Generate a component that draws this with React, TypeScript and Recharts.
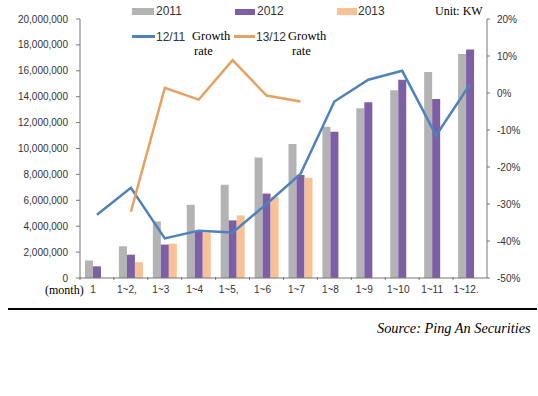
import React from "react";
import {
  ComposedChart,
  Bar,
  Line,
  XAxis,
  YAxis,
} from "recharts";

// cumulative months
const months = ["1", "1~2,", "1~3", "1~4", "1~5,", "1~6", "1~7", "1~8", "1~9", "1~10", "1~11", "1~12."];

// installed capacity, KW
const cap2011 = [1350000, 2450000, 4370000, 5650000, 7200000, 9300000, 10350000, 11680000, 13100000, 14500000, 15900000, 17300000];
const cap2012 = [900000, 1800000, 2580000, 3600000, 4450000, 6520000, 7960000, 11300000, 13580000, 15300000, 13830000, 17650000];
const cap2013 = [null, 1220000, 2650000, 3500000, 4830000, 6250000, 7750000, null, null, null, null, null];

// growth rates, %
const growth1211 = [-32.9, -25.6, -39.3, -37.2, -37.7, -30.0, -21.9, -2.3, 3.6, 6.0, -11.5, 2.4];
const growth1312 = [null, -32.1, 1.4, -1.8, 8.9, -0.7, -2.3, null, null, null, null, null];

const leftTicks = [0, 2000000, 4000000, 6000000, 8000000, 10000000, 12000000, 14000000, 16000000, 18000000, 20000000];
const rightTicks = [-50, -40, -30, -20, -10, 0, 10, 20];

const data = months.map((m, i) => ({
  month: m,
  y2011: cap2011[i],
  y2012: cap2012[i],
  y2013: cap2013[i],
  g1211: growth1211[i],
  g1312: growth1312[i],
}));

const GRAY = "#b3b3b3";
const PURPLE = "#7d5fa6";
const PEACH = "#f9c194";
const BLUE = "#4f81bd";
const ORANGE = "#e6a062";

const sans = "'Liberation Sans', Arial, sans-serif";
const serif = "'Liberation Serif', 'Times New Roman', serif";

const MonthTick = (props: any) => {
  const { x, y, payload } = props;
  return (
    <g>
      <line x1={x - 17} x2={x - 17} y1={y - 9} y2={y - 6} stroke="#777" />
      <text x={x - 4} y={y + 7} textAnchor="middle" fontSize={10} fill="#333" fontFamily={sans}>
        {payload.value}
      </text>
    </g>
  );
};

const abs = (left: number, top: number, extra: React.CSSProperties = {}): React.CSSProperties => ({
  position: "absolute",
  left,
  top,
  lineHeight: 1,
  whiteSpace: "nowrap",
  ...extra,
});

export default function App() {
  return (
    <div style={{ position: "absolute", left: 0, top: 0, width: 538, height: 396, background: "#fff" }}>
      <ComposedChart
        width={538}
        height={300}
        data={data}
        margin={{ top: 19, right: 0, bottom: 2, left: 0 }}
        barGap={0}
        barSize={8}
      >
        <XAxis
          dataKey="month"
          height={20}
          stroke="#777"
          tickLine={false}
          tick={<MonthTick />}
          interval={0}
        />
        <YAxis
          yAxisId="left"
          width={80}
          domain={[0, 20000000]}
          ticks={leftTicks}
          tickSize={4}
          tickMargin={8}
          stroke="#777"
          tick={{ fontSize: 10, fill: "#333", fontFamily: sans }}
          tickFormatter={(v: number) => v.toLocaleString("en-US")}
          interval={0}
        />
        <YAxis
          yAxisId="right"
          orientation="right"
          width={51}
          domain={[-50, 20]}
          ticks={rightTicks}
          tickSize={3}
          tickMargin={7}
          stroke="#777"
          tick={{ fontSize: 10, fill: "#333", fontFamily: sans, textAnchor: "start" }}
          tickFormatter={(v: number) => `${v}%`}
          interval={0}
        />
        <Bar yAxisId="left" dataKey="y2011" fill={GRAY} isAnimationActive={false} />
        <Bar yAxisId="left" dataKey="y2012" fill={PURPLE} isAnimationActive={false} />
        <Bar yAxisId="left" dataKey="y2013" fill={PEACH} isAnimationActive={false} />
        <Line
          yAxisId="right"
          dataKey="g1211"
          stroke={BLUE}
          strokeWidth={2.5}
          dot={false}
          activeDot={false}
          isAnimationActive={false}
        />
        <Line
          yAxisId="right"
          dataKey="g1312"
          stroke={ORANGE}
          strokeWidth={2.5}
          dot={false}
          activeDot={false}
          isAnimationActive={false}
        />
      </ComposedChart>

      {/* legend row 1 */}
      <div style={abs(132, 8, { width: 22, height: 7, background: GRAY })} />
      <div style={abs(156, 5, { fontFamily: sans, fontSize: 12, color: "#333" })}>2011</div>
      <div style={abs(235, 9, { width: 20, height: 6, background: PURPLE })} />
      <div style={abs(257, 5, { fontFamily: sans, fontSize: 12, color: "#333" })}>2012</div>
      <div style={abs(337, 8, { width: 20, height: 7, background: PEACH })} />
      <div style={abs(358, 5, { fontFamily: sans, fontSize: 12, color: "#333" })}>2013</div>

      {/* legend row 2 */}
      <div style={abs(132, 35, { width: 23, height: 2.5, background: BLUE })} />
      <div style={abs(156, 31, { fontFamily: sans, fontSize: 12, color: "#333" })}>12/11</div>
      <div style={abs(192, 30, { fontFamily: serif, fontSize: 12.5, color: "#000" })}>Growth</div>
      <div style={abs(194, 45, { fontFamily: serif, fontSize: 12.5, color: "#000" })}>rate</div>
      <div style={abs(234, 35, { width: 21, height: 2.5, background: ORANGE })} />
      <div style={abs(256, 31, { fontFamily: sans, fontSize: 12, color: "#333" })}>13/12</div>
      <div style={abs(288, 30, { fontFamily: serif, fontSize: 12.5, color: "#000" })}>Growth</div>
      <div style={abs(292, 45, { fontFamily: serif, fontSize: 12.5, color: "#000" })}>rate</div>

      <div style={abs(435, 5, { fontFamily: serif, fontSize: 12, color: "#000" })}>Unit: KW</div>
      <div style={abs(45, 284, { fontFamily: serif, fontSize: 12, color: "#000" })}>(month)</div>

      <div style={abs(8, 308, { width: 529, height: 2, background: "#000" })} />
      <div style={abs(377, 321, { fontFamily: serif, fontSize: 14.3, fontStyle: "italic", color: "#000" })}>
        Source: Ping An Securities
      </div>
    </div>
  );
}
